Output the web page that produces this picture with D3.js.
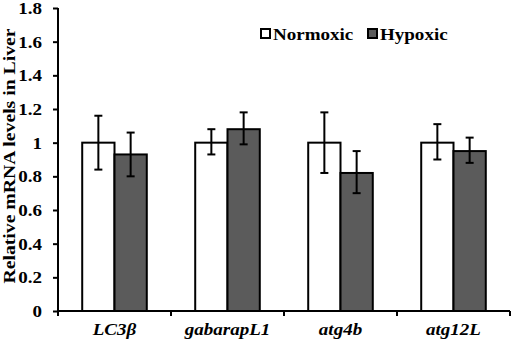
<!DOCTYPE html>
<html>
<head>
    <title>mRNA liver</title>
    <script src="https://d3js.org/d3.v7.min.js"></script>
    <style>
        body { margin: 0; background: #fff; }
        text { font-family: "Liberation Serif", "Times New Roman", serif; font-weight: bold; }
    </style>
</head>
<body>
    <svg id="chart" width="512" height="341"></svg>
    <script>
    var genes = ["LC3\u03b2", "gabarapL1", "atg4b", "atg12L"];
    var groups = ["Normoxic", "Hypoxic"];
    var normoxic = [1.0, 1.0, 1.0, 1.0];
    var normoxicLow = [0.84, 0.93, 0.82, 0.90];
    var normoxicHigh = [1.16, 1.08, 1.18, 1.11];
    var hypoxic = [0.93, 1.08, 0.82, 0.95];
    var hypoxicLow = [0.80, 0.99, 0.70, 0.88];
    var hypoxicHigh = [1.06, 1.18, 0.95, 1.03];
    var yTicks = [0, 0.2, 0.4, 0.6, 0.8, 1, 1.2, 1.4, 1.6, 1.8];
    var colors = ["#ffffff", "#5b5b5b"];

    var plotL = 58, plotT = 8, plotR = 510, plotB = 311;
    var fs = 17, sx = 1.12;   // the original text is a bit stretched sideways

    var svg = d3.select('#chart');

    var rows = genes.map(function(g, i) {
        return {
            gene: g,
            bars: [
                { grp: 0, value: normoxic[i], lo: normoxicLow[i], hi: normoxicHigh[i] },
                { grp: 1, value: hypoxic[i], lo: hypoxicLow[i], hi: hypoxicHigh[i] }
            ]
        };
    });

    var yScale = d3.scaleLinear().domain([0, 1.8]).range([plotB, plotT]);
    var xScale = d3.scaleBand().domain(genes).range([plotL, plotR]).padding(0);
    var inner = d3.scaleBand().domain([0, 1]).range([0, xScale.bandwidth()]).paddingInner(0).paddingOuter(0.75);

    // bars
    var g = svg.selectAll('.grp').data(rows).enter().append('g')
        .attr('transform', function(d) { return 'translate(' + xScale(d.gene) + ',0)'; });

    g.selectAll('rect').data(function(d) { return d.bars; }).enter().append('rect')
        .attr('x', function(d) { return inner(d.grp); })
        .attr('y', function(d) { return yScale(d.value); })
        .attr('width', inner.bandwidth())
        .attr('height', function(d) { return yScale(0) - yScale(d.value); })
        .attr('fill', function(d) { return colors[d.grp]; })
        .attr('stroke', '#000')
        .attr('stroke-width', 2);

    // error bars
    var eb = g.selectAll('.err').data(function(d) { return d.bars; }).enter().append('g');
    eb.append('line')
        .attr('x1', function(d) { return inner(d.grp) + inner.bandwidth() / 2; })
        .attr('x2', function(d) { return inner(d.grp) + inner.bandwidth() / 2; })
        .attr('y1', function(d) { return yScale(d.lo); })
        .attr('y2', function(d) { return yScale(d.hi); })
        .attr('stroke', '#000').attr('stroke-width', 2);
    [ 'lo', 'hi' ].forEach(function(k) {
        eb.append('line')
            .attr('x1', function(d) { return inner(d.grp) + inner.bandwidth() / 2 - 4; })
            .attr('x2', function(d) { return inner(d.grp) + inner.bandwidth() / 2 + 4; })
            .attr('y1', function(d) { return yScale(d[k]); })
            .attr('y2', function(d) { return yScale(d[k]); })
            .attr('stroke', '#000').attr('stroke-width', 2);
    });

    // y axis
    var yAxis = svg.append('g')
        .attr('transform', 'translate(' + plotL + ',0)')
        .call(d3.axisLeft(yScale).tickValues(yTicks).tickSize(5)
            .tickFormat(function(d) { return d === 0 || d === 1 ? d3.format('d')(d) : d3.format('.1f')(d); }));
    yAxis.selectAll('path, line').attr('stroke', '#000').attr('stroke-width', 2);
    yAxis.select('.domain').attr('d', 'M0,' + plotT + 'V' + plotB);
    yAxis.selectAll('text').attr('font-size', fs).attr('fill', '#000')
        .attr('x', -16 / sx).attr('transform', 'scale(' + sx + ',1)')
        .style('font-family', '"Liberation Serif", serif').style('font-weight', 'bold');

    // x axis
    var xAxis = svg.append('g')
        .attr('transform', 'translate(0,' + plotB + ')')
        .call(d3.axisBottom(xScale).tickSize(0).tickPadding(12));
    xAxis.select('.domain').attr('d', 'M' + plotL + ',0H' + plotR).attr('stroke', '#000').attr('stroke-width', 2);
    xAxis.selectAll('text').attr('font-size', fs).attr('fill', '#000')
        .attr('transform', 'scale(' + sx + ',1)')
        .style('font-family', '"Liberation Serif", serif').style('font-weight', 'bold').style('font-style', 'italic');
    svg.selectAll('.xtick').data(genes.concat(['end'])).enter().append('line')
        .attr('x1', function(d, i) { return i < genes.length ? xScale(d) : plotR; })
        .attr('x2', function(d, i) { return i < genes.length ? xScale(d) : plotR; })
        .attr('y1', plotB).attr('y2', plotB + 5)
        .attr('stroke', '#000').attr('stroke-width', 2);

    // y label
    svg.append('text')
        .attr('transform', 'translate(15,156) rotate(-90) scale(' + (sx + 0.04) + ',1)')
        .attr('text-anchor', 'middle')
        .attr('font-size', fs)
        .text('Relative mRNA levels in Liver');

    // legend
    var legX = [260, 367];
    var leg = svg.selectAll('.leg').data(groups).enter().append('g')
        .attr('transform', function(d, i) { return 'translate(' + legX[i] + ',28)'; });
    leg.append('rect').attr('x', 1).attr('y', 1).attr('width', 9).attr('height', 9)
        .attr('fill', function(d, i) { return colors[i]; })
        .attr('stroke', '#000').attr('stroke-width', 2);
    leg.append('text').attr('y', 11.5).attr('font-size', fs)
        .attr('transform', 'scale(' + sx + ',1)')
        .attr('x', 13 / sx)
        .text(function(d) { return d; });
    </script>
</body>
</html>
